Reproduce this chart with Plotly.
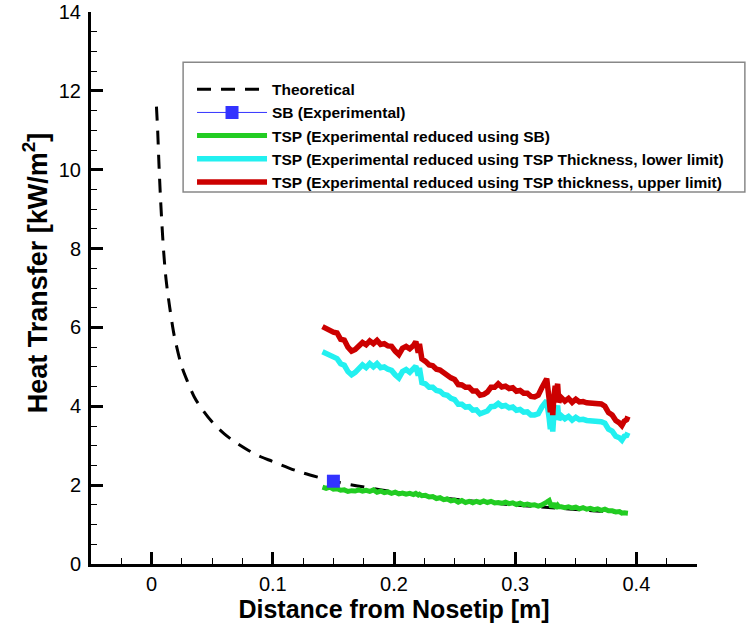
import plotly.graph_objects as go

# ---------------- data ----------------
theory_x = [0.004, 0.005, 0.006, 0.007, 0.008, 0.010, 0.012, 0.015, 0.018, 0.020,
            0.025, 0.030, 0.035, 0.040, 0.050, 0.060, 0.070, 0.080, 0.090, 0.100,
            0.120, 0.140, 0.150, 0.170, 0.200, 0.230, 0.260, 0.290, 0.320, 0.350,
            0.370, 0.390]
theory_y = [11.60, 11.00, 10.20, 9.50, 8.90, 7.90, 7.20, 6.50, 5.90, 5.60,
            5.00, 4.60, 4.25, 4.00, 3.60, 3.30, 3.07, 2.88, 2.72, 2.60,
            2.36, 2.18, 2.10, 1.98, 1.83, 1.71, 1.61, 1.52, 1.45, 1.38,
            1.34, 1.30]

sb_x = [0.150]
sb_y = [2.10]

tsp_x = [0.141, 0.144, 0.147, 0.150, 0.153, 0.156, 0.159, 0.162, 0.165, 0.168,
         0.171, 0.174, 0.177, 0.180, 0.183, 0.186, 0.189, 0.192, 0.195, 0.198,
         0.201, 0.204, 0.207, 0.210, 0.213, 0.216, 0.218, 0.220, 0.221, 0.223,
         0.226, 0.229, 0.232, 0.235, 0.238, 0.241, 0.244, 0.247, 0.250, 0.253,
         0.256, 0.259, 0.262, 0.265, 0.268, 0.271, 0.274, 0.277, 0.280, 0.283,
         0.286, 0.289, 0.292, 0.295, 0.298, 0.301, 0.304, 0.307, 0.310, 0.313,
         0.316, 0.319, 0.322, 0.324, 0.326, 0.328, 0.329, 0.330, 0.331, 0.332,
         0.333, 0.334, 0.335, 0.336, 0.338, 0.341, 0.344, 0.347, 0.350, 0.353,
         0.356, 0.359, 0.362, 0.365, 0.368, 0.371, 0.374, 0.377, 0.380, 0.383,
         0.386, 0.388, 0.390, 0.392, 0.393]

tsp_sb_y = [1.95, 1.92, 1.95, 1.90, 1.91, 1.87, 1.88, 1.84, 1.86, 1.85,
            1.88, 1.85, 1.87, 1.84, 1.88, 1.82, 1.85, 1.81, 1.83, 1.79,
            1.82, 1.78, 1.80, 1.77, 1.79, 1.76, 1.79, 1.75, 1.77, 1.73,
            1.74, 1.70, 1.71, 1.66, 1.68, 1.63, 1.65, 1.60, 1.62, 1.57,
            1.61, 1.56, 1.59, 1.55, 1.59, 1.56, 1.60, 1.56, 1.59, 1.55,
            1.56, 1.54, 1.57, 1.53, 1.55, 1.51, 1.54, 1.50, 1.52, 1.49,
            1.50, 1.47, 1.50, 1.52, 1.57, 1.61, 1.50, 1.44, 1.49, 1.54,
            1.46, 1.45, 1.49, 1.45, 1.45, 1.43, 1.45, 1.42, 1.44, 1.40,
            1.43, 1.39, 1.41, 1.38, 1.40, 1.36, 1.39, 1.35, 1.35, 1.32,
            1.33, 1.29, 1.30, 1.28, 1.29]

tsp_lower_y = [5.38, 5.33, 5.31, 5.26, 5.21, 5.08, 5.04, 4.88, 4.80, 4.86,
               4.95, 5.05, 4.98, 5.08, 5.00, 5.08, 4.98, 5.00, 4.94, 4.91,
               4.80, 4.72, 4.88, 4.93, 4.86, 4.94, 5.02, 4.78, 4.97, 4.60,
               4.57, 4.48, 4.48, 4.40, 4.38, 4.30, 4.28, 4.20, 4.17, 4.05,
               4.05, 3.98, 3.99, 3.90, 3.91, 3.81, 3.84, 3.88, 3.99, 4.00,
               4.07, 4.00, 4.02, 3.96, 3.98, 3.90, 3.92, 3.85, 3.86, 3.78,
               3.78, 3.81, 3.98, 4.06, 4.14, 3.70, 3.42, 3.62, 3.36, 3.82,
               3.98, 3.88, 4.02, 3.66, 3.76, 3.68, 3.74, 3.65, 3.72, 3.66,
               3.67, 3.64, 3.64, 3.62, 3.63, 3.61, 3.57, 3.42, 3.37, 3.24,
               3.20, 3.14, 3.24, 3.26, 3.33]

tsp_upper_y = [6.02, 5.97, 5.95, 5.88, 5.86, 5.70, 5.68, 5.50, 5.40, 5.44,
               5.53, 5.62, 5.56, 5.66, 5.59, 5.67, 5.57, 5.59, 5.53, 5.52,
               5.40, 5.31, 5.47, 5.52, 5.46, 5.54, 5.64, 5.36, 5.58, 5.20,
               5.14, 5.05, 5.03, 4.94, 4.92, 4.84, 4.80, 4.72, 4.68, 4.55,
               4.54, 4.48, 4.48, 4.39, 4.39, 4.28, 4.30, 4.36, 4.48, 4.48,
               4.57, 4.49, 4.51, 4.45, 4.47, 4.38, 4.40, 4.33, 4.33, 4.25,
               4.24, 4.28, 4.47, 4.60, 4.70, 4.18, 3.85, 4.07, 3.78, 4.27,
               4.52, 4.38, 4.57, 4.10, 4.22, 4.13, 4.20, 4.10, 4.18, 4.11,
               4.12, 4.09, 4.09, 4.07, 4.08, 4.06, 4.00, 3.84, 3.78, 3.64,
               3.58, 3.51, 3.62, 3.66, 3.74]

x_ticks = [0, 0.1, 0.2, 0.3, 0.4]
y_ticks = [0, 2, 4, 6, 8, 10, 12, 14]

FONT = "Liberation Sans, Arial, sans-serif"

fig = go.Figure()
fig.add_trace(go.Scatter(x=theory_x, y=theory_y, mode="lines", name="Theoretical",
                         legendrank=1,
                         line=dict(color="black", width=3, dash="14px,10px"),
                         line_shape="spline"))
fig.add_trace(go.Scatter(x=tsp_x, y=tsp_sb_y, mode="lines",
                         name="TSP (Experimental reduced using SB)", legendrank=3,
                         line=dict(color="#22cc22", width=5)))
fig.add_trace(go.Scatter(x=tsp_x, y=tsp_lower_y, mode="lines",
                         name="TSP (Experimental reduced using TSP Thickness, lower limit)",
                         legendrank=4,
                         line=dict(color="#22f0f0", width=5.5)))
fig.add_trace(go.Scatter(x=tsp_x, y=tsp_upper_y, mode="lines",
                         name="TSP (Experimental reduced using TSP thickness, upper limit)",
                         legendrank=5,
                         line=dict(color="#cc0000", width=5.5)))
fig.add_trace(go.Scatter(x=sb_x, y=sb_y, mode="lines+markers", name="SB (Experimental)",
                         legendrank=2,
                         line=dict(color="#3333ff", width=1),
                         marker=dict(symbol="square", size=13, color="#3333ff")))

axis_common = dict(showline=True, linecolor="black", linewidth=3, mirror=False,
                   showgrid=False, zeroline=False, ticks="inside", ticklen=12,
                   tickwidth=3, tickcolor="black",
                   tickfont=dict(family=FONT, size=20, color="black"))

fig.update_layout(
    width=746, height=625,
    margin=dict(l=91, r=49, t=12, b=61, autoexpand=False),
    paper_bgcolor="white", plot_bgcolor="white",
    font=dict(family=FONT, color="black"),
    xaxis=dict(range=[-0.05, 0.45], tickvals=x_ticks,
               ticktext=[str(v) for v in x_ticks],
               minor=dict(ticks="inside", ticklen=6, tickwidth=1, tickcolor="black",
                          dtick=0.025, tick0=0),
               title=dict(text="<b>Distance from Nosetip [m]</b>",
                          font=dict(family=FONT, size=25), standoff=4),
               **axis_common),
    yaxis=dict(range=[0, 14], tickvals=y_ticks,
               minor=dict(ticks="inside", ticklen=6, tickwidth=1, tickcolor="black",
                          dtick=0.5, tick0=0),
               ticklabelstandoff=3,
               title=dict(text="&nbsp;&nbsp;&nbsp;&nbsp;<b>Heat Transfer [kW/m<sup>2</sup>]</b>",
                          font=dict(family=FONT, size=27), standoff=4),
               **axis_common),
    legend=dict(x=0.1667, y=0.89, xanchor="left", yanchor="top",
                bgcolor="rgba(0,0,0,0)", borderwidth=0,
                traceorder="normal", itemwidth=70, tracegroupgap=0,
                font=dict(family=FONT, size=15.5, color="black", weight="bold")),
    showlegend=True,
    shapes=[dict(type="rect", xref="paper", yref="paper",
                 x0=0.152, x1=1.079, y0=0.674, y1=0.909,
                 line=dict(color="#888888", width=1.5), fillcolor="white",
                 layer="below")],
)

fig.write_html("out.html")
